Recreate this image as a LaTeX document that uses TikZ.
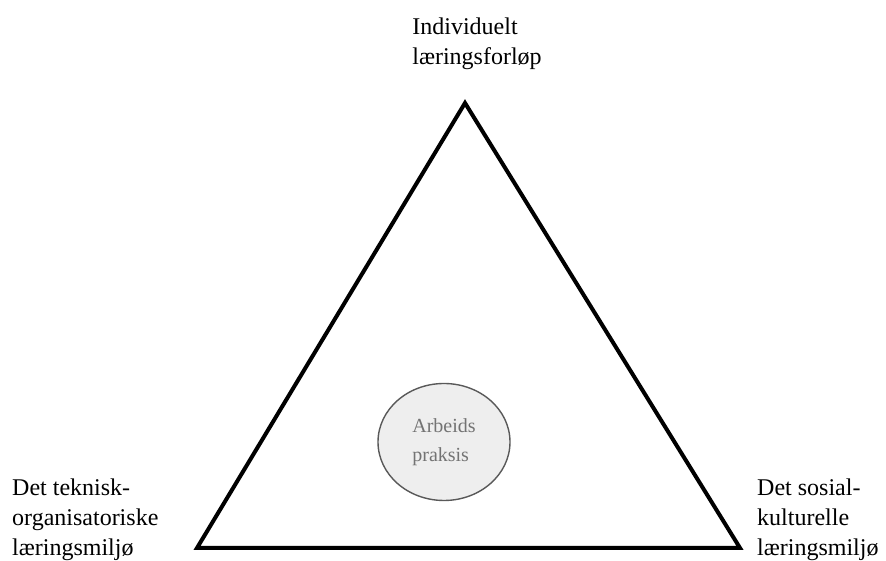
\documentclass[tikz,border=0pt]{standalone}
\usepackage{fontspec}
\setmainfont{Liberation Serif}
\usetikzlibrary{shapes, positioning}
\colorlet{praxisgray}{gray!13}

\begin{document}
\begin{tikzpicture}[x=1pt, y=1pt,
    corner/.style={inner sep=0pt,
      align=left,
      font=\fontsize{24}{30}\selectfont},
    practice/.style={ellipse,
      draw=black!65,
      line width=1.4pt,
      fill=praxisgray,
      inner sep=0pt,
      minimum width=132pt,
      minimum height=117pt,
      align=left,
      text=black!55,
      font=\fontsize{20}{29}\selectfont}]
  \useasboundingbox (0,0) rectangle (886,561);

  % TRIANGLE

  \coordinate (apex) at (465,458);
  \coordinate (leftcorner) at (197,13);
  \coordinate (rightcorner) at (740,13);

  \draw[line width=4pt] (apex) -- (rightcorner) -- (leftcorner) -- cycle;

  % CORNER TITLES

  \node [corner,
    above=33pt of apex,
    xshift=12pt] (individualtitle) {
    Individuelt\\læringsforløp
  };

  \node [corner,
    below left=13pt and 185pt of leftcorner,
    anchor=south west] (technicaltitle) {
    Det teknisk-\\organisatoriske\\læringsmiljø
  };

  \node [corner,
    below right=13pt and 17pt of rightcorner,
    anchor=south west] (socialtitle) {
    Det sosial-\\kulturelle\\læringsmiljø
  };

  % PRACTICE

  \node [practice] (practice) at (444,119) {
    Arbeids\\praksis
  };

\end{tikzpicture}
\end{document}
